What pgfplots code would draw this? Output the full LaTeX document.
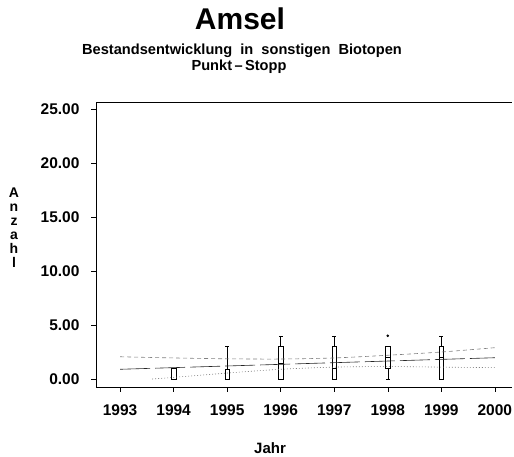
\documentclass[border=0pt]{standalone}
\usepackage{fontspec}
\setmainfont{Liberation Sans}
\usepackage{pgfplots}
\pgfplotsset{compat=1.18}
\usepgfplotslibrary{statistics}
\begin{document}
\begin{tikzpicture}
\useasboundingbox (0pt,0pt) rectangle (514pt,457pt);
\begin{axis}[
  at={(96pt,70pt)}, anchor=south west,
  width=416pt, height=285pt, scale only axis,
  xmin=-0.45, xmax=7.32, ymin=-0.74, ymax=25.65,
  axis x line*=bottom, axis y line*=left,
  axis line style={black, line width=0.6pt},
  xtick={0,1,...,7},
  xticklabels={1993,1994,1995,1996,1997,1998,1999,2000},
  ytick={0,5,...,25},
  tick align=outside, major tick length=5pt,
  tick style={black, line width=0.5pt},
  boxplot/draw direction=y,
  /pgf/number format/assume math mode=true,
  xticklabel style={font=\fontsize{15.5}{15.5}\selectfont\bfseries, yshift=-9pt},
  yticklabel style={font=\fontsize{15.5}{15.5}\selectfont\bfseries, /pgf/number format/fixed, /pgf/number format/fixed zerofill, /pgf/number format/precision=2, xshift=-8pt},
  clip=false,
]
% box plots
\addplot[draw=black, line width=0.5pt, solid, boxplot prepared={draw position=1, lower whisker=0, lower quartile=0, median=0, upper quartile=1, upper whisker=1, box extend=0.09}] coordinates {};
\addplot[draw=black, line width=0.5pt, solid, boxplot prepared={draw position=2, lower whisker=0, lower quartile=0, median=0, upper quartile=0.93, upper whisker=3, box extend=0.09}] coordinates {};
\addplot[draw=black, line width=0.5pt, solid, boxplot prepared={draw position=3, lower whisker=0, lower quartile=0, median=1.5, upper quartile=3, upper whisker=4, box extend=0.09}] coordinates {};
\addplot[draw=black, line width=0.5pt, solid, boxplot prepared={draw position=4, lower whisker=0, lower quartile=0, median=1, upper quartile=3, upper whisker=4, box extend=0.09}] coordinates {};
\addplot[draw=black, line width=0.5pt, solid, mark=*, mark size=1pt, boxplot prepared={draw position=5, lower whisker=0, lower quartile=1, median=2, upper quartile=3, upper whisker=3, box extend=0.09}] table[row sep=\\, y index=0] {data\\ 4\\};
\addplot[draw=black, line width=0.5pt, solid, boxplot prepared={draw position=6, lower whisker=0, lower quartile=0, median=2, upper quartile=3, upper whisker=4, box extend=0.09}] coordinates {};
% upper band (dashed)
\addplot[gray, line width=0.6pt, dash pattern=on 4pt off 3pt, smooth] coordinates {(0,2.06)(1,1.95)(2,1.87)(3,1.85)(4,1.95)(5,2.2)(6,2.5)(7,2.9)};
% regression (long dash)
\addplot[black!85, line width=0.6pt, dash pattern=on 30pt off 5pt] coordinates {(0,0.9)(7,1.97)};
% lower band (dotted)
\addplot[gray, line width=0.6pt, dash pattern=on 1pt off 2pt, smooth] coordinates {(0.6,0)(1,0.15)(2,0.55)(3,0.9)(4,1.1)(5,1.15)(6,1.1)(7,1.05)};
\draw[black, line width=0.6pt] (rel axis cs:0,1) -- (rel axis cs:1,1);
\end{axis}
\node[font=\fontsize{30}{30}\selectfont\bfseries, anchor=base] at (240pt,427pt) {Amsel};
\node[font=\fontsize{14.6}{14.6}\selectfont\bfseries, anchor=base] at (242pt,402pt) {Bestandsentwicklung\ \ in\ \ sonstigen\ \ Biotopen};
\node[font=\fontsize{14.6}{14.6}\selectfont\bfseries, anchor=base] at (239pt,386pt) {Punkt\,–\,Stopp};
\node[font=\fontsize{14}{14}\selectfont\bfseries, align=center] at (14pt,229pt) {A\\n\\z\\a\\h\\l};
\node[font=\fontsize{15}{15}\selectfont\bfseries] at (270pt,9pt) {Jahr};
\end{tikzpicture}
\end{document}
